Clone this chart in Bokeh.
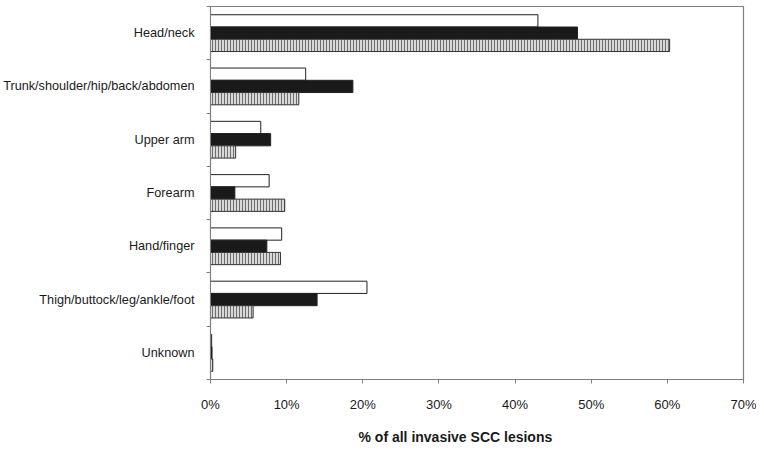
from bokeh.plotting import figure
from bokeh.models import ColumnDataSource, FixedTicker, NumeralTickFormatter, Range1d, Title
from bokeh.embed import file_html
from bokeh.resources import INLINE

categories = ["Head/neck", "Trunk/shoulder/hip/back/abdomen", "Upper arm", "Forearm",
              "Hand/finger", "Thigh/buttock/leg/ankle/foot", "Unknown"]
series_white = [43.0, 12.5, 6.6, 7.7, 9.35, 20.55, 0.15]
series_black = [48.2, 18.7, 7.9, 3.2, 7.4, 14.0, 0.2]
series_hatched = [60.3, 11.6, 3.3, 9.75, 9.2, 5.6, 0.3]
x_ticks = [0.0, 0.1, 0.2, 0.3, 0.4, 0.5, 0.6, 0.7]
x_title = "% of all invasive SCC lesions"

n = len(categories)
pos = [n - 1 - i for i in range(n)]  # top category at top
bar_h = 0.23

src = ColumnDataSource(dict(
    y=pos,
    white=[v / 100 for v in series_white],
    black=[v / 100 for v in series_black],
    hatched=[v / 100 for v in series_hatched],
    y_white=[p + bar_h for p in pos],
    y_hatched=[p - bar_h for p in pos],
))

p = figure(frame_width=533, frame_height=373, output_backend="svg", toolbar_location=None,
           x_range=Range1d(0, 0.7), y_range=Range1d(-0.5, n - 0.5),
           min_border_left=202, min_border_right=13, min_border_top=6, min_border_bottom=60)

p.hbar(y="y_white", right="white", left=0, height=bar_h, source=src,
       fill_color="white", line_color="#222222", line_width=1)
p.hbar(y="y", right="black", left=0, height=bar_h, source=src,
       fill_color="#1a1a1a", line_color="#222222", line_width=1)
p.hbar(y="y_hatched", right="hatched", left=0, height=bar_h, source=src,
       fill_color="#d8d8d8", line_color="#333333", line_width=1,
       hatch_pattern="|", hatch_color="#6e6e6e", hatch_scale=3, hatch_weight=1)

p.xgrid.visible = False
p.ygrid.visible = False
p.outline_line_color = "#7f7f7f"
p.outline_line_width = 1.2

font = "Liberation Sans"
p.xaxis.ticker = FixedTicker(ticks=x_ticks)
p.xaxis.formatter = NumeralTickFormatter(format="0%")
p.xaxis.minor_tick_line_color = None
p.xaxis.major_tick_out = 4
p.xaxis.major_tick_in = 0
p.xaxis.major_label_standoff = 13
p.xaxis.axis_line_color = "#7f7f7f"
p.xaxis.major_tick_line_color = "#7f7f7f"

p.yaxis.ticker = FixedTicker(ticks=pos, minor_ticks=[k - 0.5 for k in range(n + 1)])
p.yaxis.major_label_overrides = {pos[i]: categories[i] for i in range(n)}
p.yaxis.major_tick_out = 0
p.yaxis.major_tick_in = 0
p.yaxis.minor_tick_out = 4
p.yaxis.minor_tick_in = 0
p.yaxis.major_label_standoff = 12
p.yaxis.axis_line_color = "#7f7f7f"
p.yaxis.minor_tick_line_color = "#7f7f7f"

for ax in (p.xaxis, p.yaxis):
    ax.major_label_text_font = font
    ax.major_label_text_color = "#1a1a1a"
p.yaxis.major_label_text_font_size = "12.7px"
p.xaxis.major_label_text_font_size = "13px"

t = Title(text=x_title, align="left", offset=148, text_font=font,
          text_font_size="14px", text_font_style="bold", text_color="#1a1a1a",
          standoff=24)
p.add_layout(t, "below")

open("out.html", "w").write(file_html(p, INLINE))
